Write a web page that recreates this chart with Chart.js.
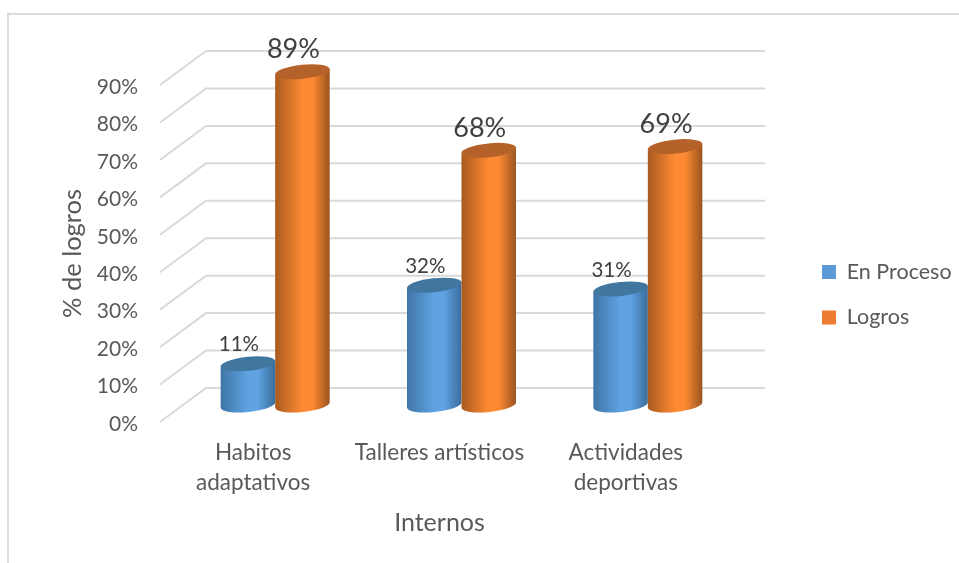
<!DOCTYPE html>
<html>
<head>
<meta charset="utf-8">
<style>html,body{margin:0;padding:0;background:#fff}canvas{display:block}</style>
<script src="https://cdn.jsdelivr.net/npm/chart.js@4"></script>
</head>
<body>
<div style="width:959px;height:563px;position:relative"><canvas id="c" width="959" height="563"></canvas></div>
<script>
const categories = [["Habitos", "adaptativos"], "Talleres artísticos", ["Actividades", "deportivas"]];
const seriesNames = ["En Proceso", "Logros"];
const enProceso = [11, 32, 31];
const logros = [89, 68, 69];
const yTicks = { min: 0, max: 90, step: 10 };
const colors = ["#5b9bd5", "#ed7d31"];
const shades = {
  "#5b9bd5": { edgeL: "#3f75a6", mid: "#5fa3e2", edgeR: "#3b6d9c", cap: "#41769f" },
  "#ed7d31": { edgeL: "#a85a20", mid: "#ff8a33", edgeR: "#9a5420", cap: "#b5622a" }
};
const FONT = "Lato, Carlito, sans-serif";
const DEPTH_X = 46, DEPTH_Y = 34, BAR_DX = 22;
const TILT = -6 * Math.PI / 180, CAP_B = 7;

// bars are drawn as cylinders from each bar element's own scale-derived geometry
Chart.BarElement.prototype.draw = function (ctx) {
  const { x, y, base, width } = this.getProps(["x", "y", "base", "width"], true);
  const s = shades[this.options.backgroundColor];
  const cx = x + BAR_DX, top = y - DEPTH_Y / 2, bot = base - DEPTH_Y / 2;
  const a = (width / 2) / Math.cos(TILT), rise = (width / 2) * Math.tan(TILT);
  const L = cx - width / 2, R = cx + width / 2;
  const g = ctx.createLinearGradient(L, 0, R, 0);
  g.addColorStop(0, s.edgeL);
  g.addColorStop(0.5, s.mid); g.addColorStop(0.68, s.mid);
  g.addColorStop(1, s.edgeR);
  ctx.save();
  ctx.beginPath();
  ctx.moveTo(L, top - rise);
  ctx.lineTo(L, bot - rise);
  ctx.ellipse(cx, bot, a, CAP_B, TILT, Math.PI, 0, true);
  ctx.lineTo(R, top + rise);
  ctx.closePath();
  ctx.fillStyle = g;
  ctx.fill();
  ctx.beginPath();
  ctx.ellipse(cx, top, a, CAP_B, TILT, 0, Math.PI * 2);
  ctx.fillStyle = s.cap;
  ctx.fill();
  ctx.restore();
};

const scene = {
  id: "scene",
  beforeDraw(chart) {
    const ctx = chart.ctx;
    ctx.save();
    ctx.strokeStyle = "#dcdcdc"; ctx.lineWidth = 2;
    ctx.beginPath();
    ctx.moveTo(8, 563); ctx.lineTo(8, 14); ctx.lineTo(959, 14);
    ctx.stroke();
    ctx.restore();
  },
  beforeDatasetsDraw(chart) {
    const ctx = chart.ctx, ys = chart.scales.y, a = chart.chartArea;
    ctx.save();
    ctx.strokeStyle = "#d9d9d9"; ctx.lineWidth = 2;
    ys.ticks.forEach(t => {
      const p = ys.getPixelForValue(t.value);
      ctx.beginPath();
      ctx.moveTo(a.left, p);
      ctx.lineTo(a.left + DEPTH_X, p - DEPTH_Y);
      ctx.lineTo(a.right + DEPTH_X, p - DEPTH_Y);
      ctx.stroke();
    });
    ctx.restore();
  },
  // the later series sits in front of the earlier one, so cancel the default reverse pass
  beforeDatasetDraw() { return false; },
  afterDatasetsDraw(chart) {
    const ctx = chart.ctx;
    chart.data.datasets.forEach((ds, i) => chart.getDatasetMeta(i).controller.draw());
    ctx.save();
    ctx.textAlign = "center"; ctx.textBaseline = "middle";
    chart.data.datasets.forEach((ds, i) => {
      const big = i === 1;
      ctx.font = (big ? 27 : 20.5) + "px " + FONT;
      ctx.fillStyle = "#404040";
      chart.getDatasetMeta(i).data.forEach((el, j) => {
        const cx = el.x + BAR_DX - 9;
        const cy = el.y - DEPTH_Y / 2 - (big ? 22 : 19);
        ctx.fillText(ds.data[j] + "%", cx, cy);
      });
    });
    ctx.restore();
  },
  afterLayout(chart) {
    const l = chart.legend, w = l.width, h = l.height;
    l.left = 822 - 24; l.right = l.left + w; l.top = 272 - 10.75 - 24; l.bottom = l.top + h;
  }
};

const canvas = document.getElementById("c");
canvas.getContext("2d").letterSpacing = "0.01px";

new Chart(canvas, {
  type: "bar",
  data: {
    labels: categories,
    datasets: [
      { label: seriesNames[0], data: enProceso, backgroundColor: colors[0] },
      { label: seriesNames[1], data: logros, backgroundColor: colors[1] }
    ]
  },
  plugins: [scene],
  options: {
    responsive: false,
    animation: false,
    clip: false,
    layout: { padding: { left: 57, right: 240, top: 85, bottom: 25 } },
    datasets: { bar: { categoryPercentage: 0.585, barPercentage: 1 } },
    scales: {
      x: {
        grid: { display: false }, border: { display: false },
        ticks: { color: "#595959", font: { family: FONT, size: 22.5, lineHeight: 1.33 }, padding: 8, maxRotation: 0, autoSkip: false },
        title: { display: true, text: "Internos", color: "#595959", font: { family: FONT, size: 25 }, padding: { top: 10, bottom: 0 } },
        afterFit(s) { s.height = 563 - 422 - 25; }
      },
      y: {
        min: yTicks.min, max: yTicks.max,
        grid: { display: false }, border: { display: false },
        ticks: { stepSize: yTicks.step, color: "#595959", font: { family: FONT, size: 21 }, padding: 14, callback: v => v + "%" },
        title: { display: true, text: "% de logros", color: "#595959", font: { family: FONT, size: 25.5 }, padding: 0 },
        afterFit(s) {
          s.width = 103;
          if (!s._nudged) {
            const orig = s._computeLabelItems;
            s._computeLabelItems = function (area) {
              const items = orig.call(this, area);
              items.forEach(it => { it.options.translation = [it.options.translation[0], it.options.translation[1] + 2]; });
              return items;
            };
            s._nudged = true;
          }
        }
      }
    },
    plugins: {
      tooltip: { enabled: false },
      legend: {
        position: "chartArea", align: "start",
        labels: { boxWidth: 14, boxHeight: 14, padding: 24, color: "#595959", font: { family: FONT, size: 21.5 } }
      }
    }
  }
});
</script>
</body>
</html>
